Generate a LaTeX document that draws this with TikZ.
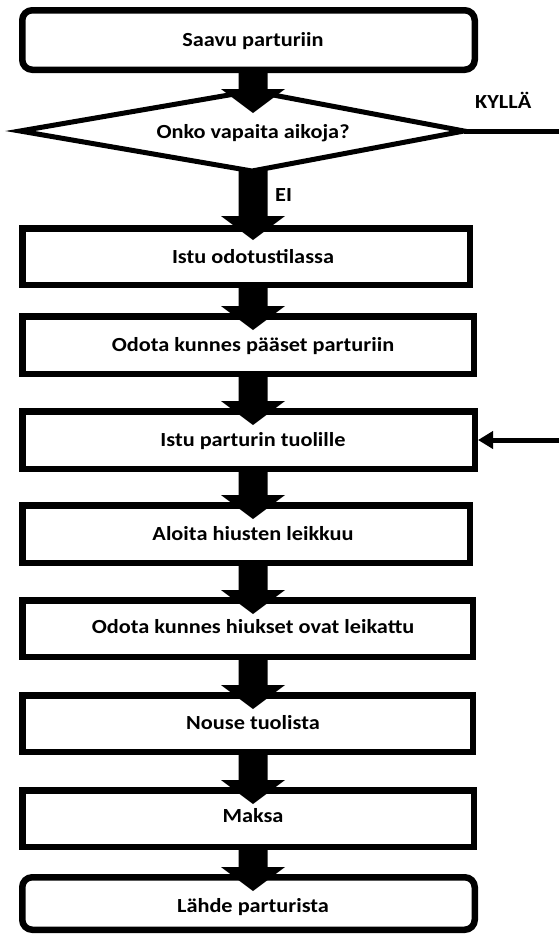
\documentclass[tikz,border=0pt]{standalone}
\usepackage{fontspec}
\setmainfont{Carlito}[FakeStretch=1.115]
\usetikzlibrary{calc,arrows.meta}
\newcommand\blockarrow[3]{%
  \fill let \p1=(#1), \p2=(#2) in
    (238.5pt,{\y1+2pt}) -- (238.5pt,{\y2-#3pt+24pt}) -- (221pt,{\y2-#3pt+24pt})
    -- (253pt,{\y2-#3pt}) -- (285pt,{\y2-#3pt+24pt}) -- (267.5pt,{\y2-#3pt+24pt})
    -- (267.5pt,{\y1+2pt}) -- cycle;}
\begin{document}
\begin{tikzpicture}[x=1pt,y=-1pt,
  box/.style={draw=black, line width=6.5pt, fill=white, inner sep=0pt},
  rbox/.style={box, rounded corners=10pt},
  lbl/.style={anchor=base, font=\fontsize{20}{24}\selectfont\bfseries, inner sep=0pt},
  side/.style={anchor=base west, font=\fontsize{20}{24}\selectfont\bfseries, inner sep=0pt},
  thin/.style={line width=5pt}]
\useasboundingbox (0,0) rectangle (559,935);
% boxes
\node[rbox, minimum width=452.5pt, minimum height=59.5pt] (b1) at (248.5,40) {};
\node[box, minimum width=447.5pt, minimum height=56.5pt] (b2) at (246,256.5) {};
\node[box, minimum width=451.5pt, minimum height=57.5pt] (b3) at (248,345) {};
\node[box, minimum width=452.5pt, minimum height=57.5pt] (b4) at (248.5,440) {};
\node[box, minimum width=447.5pt, minimum height=57.5pt] (b5) at (246,534) {};
\node[box, minimum width=450.5pt, minimum height=56.5pt] (b6) at (247.5,628.5) {};
\node[box, minimum width=450.5pt, minimum height=56.5pt] (b7) at (247.5,723.5) {};
\node[box, minimum width=451.5pt, minimum height=56.5pt] (b8) at (248,818.5) {};
\node[rbox, minimum width=452.5pt, minimum height=52.5pt] (b9) at (248.5,903.5) {};
% diamond
\coordinate (dL) at (20,131);
\coordinate (dT) at (252,91);
\coordinate (dR) at (464,131);
\coordinate (dB) at (252,171);
\draw[thin, fill=white] (dL) -- (dT) -- (dR) -- (dB) -- cycle;
% side connectors
\coordinate (yesend) at (559,131);
\coordinate (inend) at (559,440);
\draw[thin] (dR) -- (yesend);
\draw[thin, -{Triangle[length=15pt,width=17pt]}] (inend) -- (b4.east);
% block arrows
\blockarrow{b1.south}{dT}{22}
\blockarrow{dB}{b2.north}{15}
\blockarrow{b2.south}{b3.north}{17}
\blockarrow{b3.south}{b4.north}{17}
\blockarrow{b4.south}{b5.north}{17}
\blockarrow{b5.south}{b6.north}{17}
\blockarrow{b6.south}{b7.north}{17}
\blockarrow{b7.south}{b8.north}{17}
\blockarrow{b8.south}{b9.north}{17}
% texts
\node[lbl] (t1) at (253,46) {Saavu parturiin};
\node[lbl] (td) at (253,138) {Onko vapaita aikoja?};
\node[lbl] (t2) at (253,263) {Istu odotustilassa};
\node[lbl] (t3) at (253,351) {Odota kunnes pääset parturiin};
\node[lbl] (t4) at (253,446) {Istu parturin tuolille};
\node[lbl] (t5) at (253,540) {Aloita hiusten leikkuu};
\node[lbl] (t6) at (253,633) {Odota kunnes hiukset ovat leikattu};
\node[lbl] (t7) at (253,729) {Nouse tuolista};
\node[lbl] (t8) at (253,822) {Maksa};
\node[lbl] (t9) at (253,912) {Lähde parturista};
\node[side] (yes) at (475,108) {KYLLÄ};
\node[side] (no) at (275,201) {EI};
\end{tikzpicture}
\end{document}
